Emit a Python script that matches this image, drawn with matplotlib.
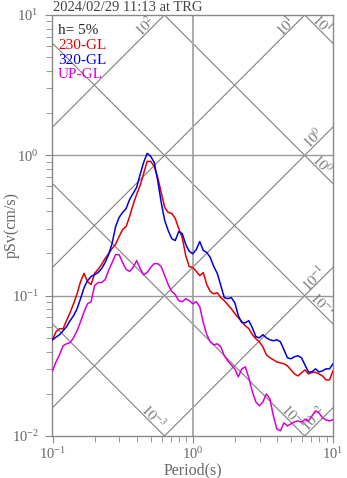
import numpy as np
import matplotlib
matplotlib.use("Agg")
import matplotlib.pyplot as plt
from matplotlib.ticker import NullFormatter

plt.rcParams['font.family'] = ['Liberation Serif', 'DejaVu Serif']
plt.rcParams['mathtext.fontset'] = 'stix'

# periods (s)
period = [0.1, 0.1059, 0.1122, 0.1189, 0.1259, 0.1334, 0.1413, 0.1496, 0.1585, 0.1679,
          0.1778, 0.1884, 0.1995, 0.2113, 0.2239, 0.2371, 0.2512, 0.2661, 0.2818, 0.2985,
          0.3162, 0.3350, 0.3548, 0.3758, 0.3981, 0.4217, 0.4467, 0.4732, 0.5012, 0.5309,
          0.5623, 0.5957, 0.6310, 0.6683, 0.7079, 0.7499, 0.7943, 0.8414, 0.8913, 0.9441,
          1.0, 1.059, 1.122, 1.189, 1.259, 1.334, 1.413, 1.496, 1.585, 1.679,
          1.778, 1.884, 1.995, 2.113, 2.239, 2.371, 2.512, 2.661, 2.818, 2.985,
          3.162, 3.350, 3.548, 3.758, 3.981, 4.217, 4.467, 4.732, 5.012, 5.309,
          5.623, 5.957, 6.310, 6.683, 7.079, 7.499, 7.943, 8.414, 8.913, 9.441, 10.0]

# pseudo velocity response (cm/s)
psv_230 = [0.0485, 0.0553, 0.0581, 0.0581, 0.0663, 0.0756, 0.0876, 0.103, 0.126, 0.144,
           0.126, 0.120, 0.144, 0.154, 0.167, 0.184, 0.199, 0.217, 0.232, 0.264,
           0.296, 0.311, 0.367, 0.446, 0.527, 0.611, 0.744, 0.906, 0.906, 0.834,
           0.697, 0.544, 0.425, 0.392, 0.386, 0.355, 0.301, 0.259, 0.193, 0.161,
           0.159, 0.149, 0.139, 0.146, 0.120, 0.107, 0.103, 0.105, 0.0968, 0.0921,
           0.0862, 0.0807, 0.0744, 0.0697, 0.0652, 0.0611, 0.0581, 0.0527, 0.0493, 0.0469,
           0.0432, 0.0379, 0.0361, 0.0349, 0.0337, 0.0332, 0.0327, 0.0316, 0.0296, 0.0277,
           0.0268, 0.0282, 0.0296, 0.0277, 0.0284, 0.0284, 0.0277, 0.0268, 0.0251, 0.0251, 0.0291]

psv_320 = [0.0485, 0.0506, 0.0527, 0.0562, 0.0601, 0.0663, 0.0720, 0.0807, 0.0952, 0.114,
           0.128, 0.137, 0.141, 0.146, 0.156, 0.172, 0.196, 0.236, 0.311, 0.361,
           0.392, 0.418, 0.485, 0.535, 0.591, 0.732, 0.891, 1.033, 0.984, 0.891,
           0.663, 0.462, 0.343, 0.291, 0.255, 0.247, 0.286, 0.277, 0.232, 0.207,
           0.199, 0.213, 0.243, 0.210, 0.203, 0.187, 0.161, 0.144, 0.118, 0.0968,
           0.0952, 0.0968, 0.0891, 0.0720, 0.0642, 0.0642, 0.0663, 0.0591, 0.0510, 0.0501,
           0.0527, 0.0501, 0.0485, 0.0477, 0.0485, 0.0469, 0.0412, 0.0361, 0.0355, 0.0367,
           0.0373, 0.0361, 0.0321, 0.0286, 0.0286, 0.0301, 0.0286, 0.0291, 0.0301, 0.0301, 0.0327]

psv_up = [0.0291, 0.0337, 0.0379, 0.0439, 0.0454, 0.0462, 0.0501, 0.0562, 0.0652, 0.0768,
          0.0876, 0.0906, 0.118, 0.124, 0.124, 0.130, 0.151, 0.172, 0.196, 0.196,
          0.172, 0.154, 0.149, 0.159, 0.178, 0.156, 0.141, 0.146, 0.159, 0.169,
          0.169, 0.161, 0.139, 0.120, 0.107, 0.102, 0.0921, 0.0906, 0.0952, 0.0921,
          0.0876, 0.0906, 0.0834, 0.0642, 0.0527, 0.0469, 0.0446, 0.0454, 0.0432, 0.0373,
          0.0343, 0.0321, 0.0301, 0.0264, 0.0301, 0.0311, 0.0259, 0.0207, 0.0175, 0.0164,
          0.0175, 0.0199, 0.0184, 0.0139, 0.0112, 0.0109, 0.0124, 0.0118, 0.0122, 0.0126,
          0.0128, 0.0126, 0.0131, 0.0128, 0.0139, 0.0151, 0.0146, 0.0135, 0.0130, 0.0128, 0.0131]

series = [("230-GL", psv_230, "#e00000"),
          ("320-GL", psv_320, "#0000e0"),
          ("UP-GL", psv_up, "#d800d8")]

# tripartite grid: acceleration (cm/s^2) and displacement (cm)
acc_levels = [1e2, 1e1, 1e0, 1e-1, 1e-2]
acc_exps = [2, 1, 0, -1, -2]
disp_levels = [1e1, 1e0, 1e-1, 1e-2, 1e-3]
disp_exps = [1, 0, -1, -2, -3]

t_min, t_max = 0.1, 10.0
v_min, v_max = 0.01, 10.0
w = 2 * np.pi

fig = plt.figure(figsize=(3.47, 4.78), dpi=100)
ax = fig.add_axes([52.5 / 347, 1 - 436 / 478, 280.5 / 347, 421 / 478])
ax.set_xscale("log")
ax.set_yscale("log")
ax.set_xlim(t_min, t_max)
ax.set_ylim(v_min, v_max)

line_col = "#808080"
tt = np.array([t_min, t_max])
for sa in acc_levels:
    ax.plot(tt, sa * tt / w, color=line_col, lw=0.8, zorder=1)
for sd in disp_levels:
    ax.plot(tt, w * sd / tt, color=line_col, lw=0.8, zorder=1)

ax.axvline(1.0, color="#aaaaaa", lw=1.4, zorder=1)
for v in (1.0, 0.1):
    ax.axhline(v, color="#999999", lw=1.0, zorder=1)

# labels along the diagonals, just inside where each line leaves the frame
back = 15 / 140
off = 4 / 140
lab_kw = dict(ha="center", va="center", rotation_mode="anchor", color="#777777",
              fontsize=10.5, clip_on=True, zorder=2)
for sa, e in zip(acc_levels, acc_exps):
    lt_top = 1 + np.log10(w / sa)
    if lt_top <= 1:
        lte, lve = lt_top, 1.0
    else:
        lte, lve = 1.0, np.log10(sa * t_max / w)
    lt = lte - back - off
    lv = lve - back + off
    ax.text(10 ** lt, 10 ** lv, r"$10^{%d}$" % e, rotation=45, **lab_kw)
for sd, e in zip(disp_levels, disp_exps):
    lv_right = np.log10(w * sd / t_max)
    if lv_right >= -2:
        lte, lve = 1.0, lv_right
    else:
        lte, lve = np.log10(w * sd) + 2, -2.0
    lt = lte - back + off
    lv = lve + back + off
    ax.text(10 ** lt, 10 ** lv, r"$10^{%d}$" % e, rotation=-45, **lab_kw)

for name, vals, col in series:
    ax.plot(period, vals, color=col, lw=1.1, zorder=3)

for s in ax.spines.values():
    s.set_color("#888888")
    s.set_linewidth(1.0)
ax.tick_params(which="both", direction="out", colors="#888888", labelcolor="#666666",
               labelsize=10.5, top=False, right=False)
ax.tick_params(which="major", length=5)
ax.tick_params(which="minor", length=4)
ax.tick_params(axis="x", pad=2)
ax.tick_params(axis="y", pad=5)
ax.xaxis.set_minor_formatter(NullFormatter())
ax.yaxis.set_minor_formatter(NullFormatter())

fig.text(12 / 347, 1 - 225 / 478, "pSv(cm/s)", rotation=90, ha="center", va="center",
         fontsize=11.5, color="#666666")
fig.text(193 / 347, 1 - 470 / 478, "Period(s)", ha="center", va="center",
         fontsize=11.5, color="#666666")
fig.text(53 / 347, 1 - 11 / 478, "2024/02/29 11:13 at TRG", ha="left", va="baseline",
         fontsize=10.5, color="#444444")

fig.text(58 / 347, 1 - 34 / 478, "h= 5%", ha="left", va="baseline", fontsize=11,
         color="#222222")
legend_y = [49, 64, 78]
for (name, vals, col), yb in zip(series, legend_y):
    fig.text(58 / 347, 1 - yb / 478, name, ha="left", va="baseline", fontsize=11, color=col)

fig.savefig("out.png", dpi=100)
